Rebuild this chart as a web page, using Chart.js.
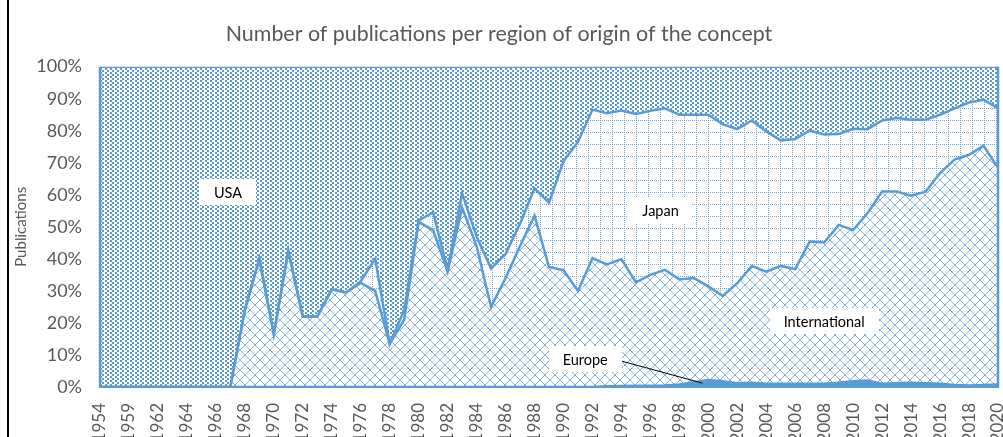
<!DOCTYPE html>
<html><head><meta charset="utf-8">
<script src="https://cdn.jsdelivr.net/npm/chart.js@4.4.1/dist/chart.umd.min.js"></script>
<style>html,body{margin:0;padding:0;background:#fff;overflow:hidden}#wrap{width:1003px;height:437px;position:relative}</style>
</head><body><div id="wrap"><canvas id="c" width="1003" height="437"></canvas></div>
<script>
const years = ['1954','1956','1959','1961','1962','1963','1964','1965','1966','1967','1968','1969','1970','1971','1972','1973','1974','1975','1976','1977','1978','1979','1980','1981','1982','1983','1984','1985','1986','1987','1988','1989','1990','1991','1992','1993','1994','1995','1996','1997','1998','1999','2000','2001','2002','2003','2004','2005','2006','2007','2008','2009','2010','2011','2012','2013','2014','2015','2016','2017','2018','2019','2020'];

// share (%) of publications per region, bottom to top of the stack
const europe = [0,0,0,0,0,0,0,0,0,
  0,0,0,0,0,0,0,0,0,0,0,0,0,0,0,0,0,0,0,0,0,0,0,0,0,0,
  0.2,0.3,0.4,0.4,0.5,0.8,1.5,2.2,1.8,1.2,1.3,1.0,1.0,1.0,1.0,1.0,1.3,1.8,2.0,1.0,1.2,1.3,1.2,1.0,0.6,0.5,0.6,0.8];
const international = [0,0,0,0,0,0,0,0,0,
  0,24,40,16.5,42.5,22,22,30.5,29.5,32.5,30,13.5,21,51.5,49,36,56,44,25,34,44,53.5,37.5,36.5,30,40.2,
  38.1,39.6,32.3,34.6,36.1,32.8,32.5,29.2,26.6,31.2,36.5,35,36.8,35.8,44.4,44.1,49.3,47.2,52.3,60,59.8,58.4,59.8,65.8,70.4,72,74.7,67.7];
const japan = [0,0,0,0,0,0,0,0,0,
  0,0,0,0,0,0,0,0,0,0.5,10,0,3,0.5,5.5,0.5,4.5,3,12,7.5,7,8.5,20,34,46.5,46.4,
  47.2,46.4,52.5,51.2,50.4,51.4,51,53.6,53.6,48.1,45.4,43.8,39.2,40.6,34.7,33.7,28.4,31.6,26.2,22.2,23,23.7,22.4,18.2,16,16.3,14.4,18.5];
const usa = [100,100,100,100,100,100,100,100,100,
  100,76,60,83.5,57.5,78,78,69.5,70.5,67,60,86.5,76,48,45.5,63.5,39.5,53,63,58.5,49,38,42.5,29.5,23.5,13.4,
  14.5,13.7,14.8,13.8,13,15,15,15,18,19.5,16.8,20.2,23,22.6,19.9,21.2,21,19.4,19.5,16.8,16,16.6,16.6,15,13,11.2,10.3,13];
const yTicks = ['0%','10%','20%','30%','40%','50%','60%','70%','80%','90%','100%'];
const seriesNames = ['Europe','International','Japan','USA'];

const BLUE = '#5B9BD5';
const FONT = "Lato, 'Open Sans', sans-serif";

function makePattern(w, h, draw){
  const c = document.createElement('canvas'); c.width = w; c.height = h;
  const g = c.getContext('2d'); g.fillStyle = '#fff'; g.fillRect(0,0,w,h);
  g.fillStyle = BLUE; draw(g, w, h);
  return document.getElementById('c').getContext('2d').createPattern(c, 'repeat');
}
const patUSA = makePattern(5, 4, (g)=>{ g.fillRect(0,0,2,2); g.fillRect(2,2,2,2); });
const patJapan = makePattern(12, 12, (g,s)=>{ g.fillStyle='#6BA5DA'; for(let i=0;i<s;i+=2){ g.fillRect(i,0,1,1); g.fillRect(0,i,1,1);} });
const patIntl = makePattern(10, 10, (g,s)=>{ g.fillStyle='#7FB0DE'; for(let i=0;i<s;i++){ g.fillRect(i,i,1,1); g.fillRect(s-1-i,i,1,1);} });

const labelAnchors = [
  {text:'USA', x:8.84, y:60.9},
  {text:'Japan', x:38.7, y:55},
  {text:'International', x:50, y:20.6},
  {text:'Europe', x:33.5, y:8.75, lead:{x:41.6, y:1.2}}
];

const decor = {
  id:'decor',
  afterDatasetsDraw(chart){
    const {ctx, chartArea:a, scales} = chart;
    ctx.save();
    ctx.strokeStyle = BLUE; ctx.lineWidth = 2.5;
    ctx.beginPath(); ctx.moveTo(a.left, a.top); ctx.lineTo(a.left, a.bottom);
    ctx.moveTo(a.right, a.top); ctx.lineTo(a.right, a.bottom); ctx.stroke();
    ctx.font = '14.5px ' + FONT; ctx.textAlign='center'; ctx.textBaseline='middle';
    for(const L of labelAnchors){
      const px = scales.x.getPixelForValue(L.x), py = scales.y.getPixelForValue(L.y);
      const w = ctx.measureText(L.text).width + 28, h = 26;
      if(L.lead){
        const lx = scales.x.getPixelForValue(L.lead.x), ly = scales.y.getPixelForValue(L.lead.y);
        ctx.strokeStyle='#000'; ctx.lineWidth=1; ctx.beginPath();
        ctx.moveTo(px + w/2 - 8, py); ctx.lineTo(lx, ly); ctx.stroke();
      }
      ctx.fillStyle='#fff'; ctx.fillRect(Math.round(px-w/2), Math.round(py-h/2), Math.round(w), h);
      ctx.fillStyle='#000'; ctx.fillText(L.text, px, py+1);
    }
    ctx.fillStyle='#000'; ctx.fillRect(7,0,2,437);
    ctx.restore();
  }
};

const fills = [BLUE, patIntl, patJapan, patUSA];
const seriesData = [europe, international, japan, usa];

new Chart(document.getElementById('c'), {
  type:'line',
  data:{
    labels: years,
    datasets: seriesNames.map((n,i)=>({
      label:n, data:seriesData[i], backgroundColor:fills[i], borderColor:BLUE, borderWidth:2.5,
      pointRadius:0, tension:0, fill: i===0 ? 'origin' : '-1'
    }))
  },
  options:{
    responsive:false, animation:false, devicePixelRatio:1,
    layout:{padding:{left:0,right:5,top:0,bottom:0}},
    plugins:{
      legend:{display:false}, tooltip:{enabled:false},
      filler:{drawTime:'beforeDatasetsDraw'},
      title:{display:true, text:'Number of publications per region of origin of the concept', color:'#595959',
        font:{family:FONT, size:21.4, weight:'normal'}, padding:{top:21,bottom:20}}
    },
    scales:{
      x:{
        grid:{display:false}, border:{display:true, color:BLUE, width:2},
        ticks:{autoSkip:false, maxRotation:90, minRotation:90, color:'#595959', padding:8,
          font:{family:FONT, size:17}, callback:(v,i)=> i%2===0 ? years[i] : ''},
        afterFit:(s)=>{ s.height = 50; s.paddingLeft = 0; s.paddingRight = 0; }
      },
      y:{
        stacked:true, min:0, max:100,
        grid:{display:false}, border:{display:false},
        ticks:{stepSize:10, color:'#595959', padding:10, font:{family:FONT, size:18},
          callback:(v)=> yTicks[Math.round(v/10)]},
        title:{display:true, text:'Publications', color:'#595959', font:{family:FONT, size:15}, padding:{top:12,bottom:0}},
        afterFit:(s)=>{ s.width = 100; }
      }
    }
  },
  plugins:[decor]
});
</script></body></html>
